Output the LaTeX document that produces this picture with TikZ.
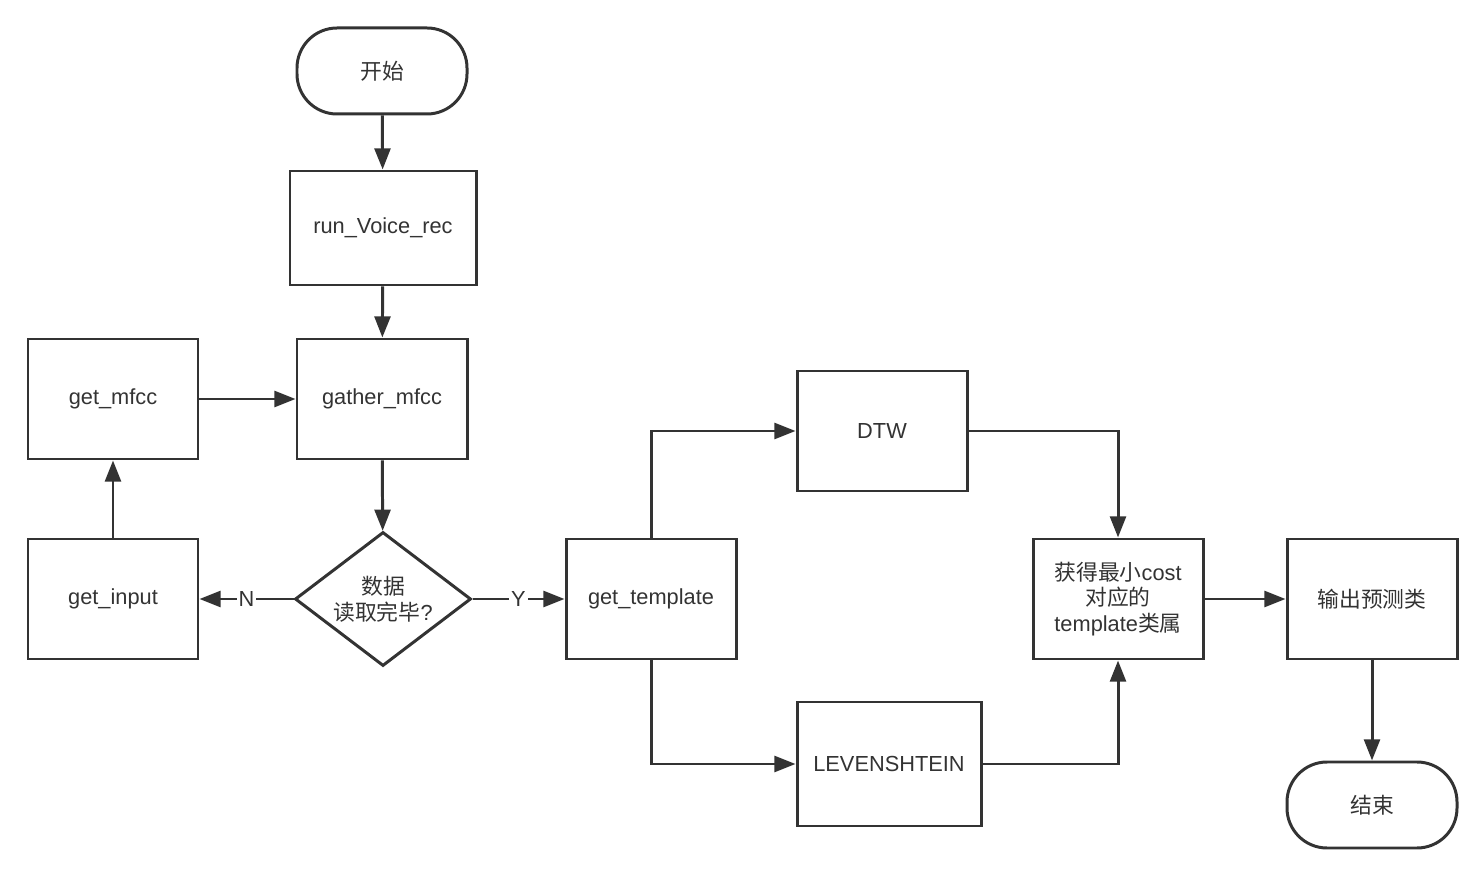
\documentclass[tikz,border=0pt]{standalone}
\usepackage{fontspec}
\setmainfont{Liberation Sans}
\newfontfamily\cjk{Noto Sans CJK SC}
\usetikzlibrary{arrows.meta,positioning,shapes.geometric}
\definecolor{fcdark}{RGB}{51,51,51}
\tikzset{
  procbox/.style={draw=fcdark, line width=1.7pt, text=fcdark, align=center,
                  font=\fontsize{12.4}{14.7}\selectfont,
                  minimum width=3.4cm, minimum height=2.4cm, inner sep=2pt},
  termbox/.style={draw=fcdark, line width=1.7pt, text=fcdark, rounded corners=0.8cm,
                  font=\fontsize{12.4}{14.7}\selectfont\cjk,
                  minimum width=3.4cm, minimum height=1.72cm},
  decbox/.style={diamond, draw=fcdark, line width=1.7pt, text=fcdark, align=center,
                 font=\fontsize{12.4}{14.7}\selectfont, shape aspect=1.3,
                 minimum width=3.52cm, minimum height=2.68cm, inner sep=0pt},
  flow/.style={-{Triangle[length=12pt, width=9pt]}, line width=1.7pt, draw=fcdark},
  yn/.style={fill=white, text=fcdark, font=\fontsize{12.4}{14.7}\selectfont, inner sep=1pt},
}
\begin{document}
\begin{tikzpicture}
\useasboundingbox (0,0) rectangle (29.68,-17.68);

% Main column
\node[termbox] (start) at (7.64,-1.42) {开始};
\node[procbox, minimum width=3.72cm, minimum height=2.28cm] (run) at (7.66,-4.56) {run\_Voice\_rec};
\node[procbox] (gather) at (7.64,-7.98) {gather\_mfcc};
\node[decbox] (check) at (7.66,-11.98) {{\cjk 数据}\\{\cjk 读取完毕}?};

% Input loop
\node[procbox] (mfcc) at (2.26,-7.98) {get\_mfcc};
\node[procbox] (input) at (2.26,-11.98) {get\_input};

% Matching branch
\node[procbox] (tpl) at (13.02,-11.98) {get\_template};
\node[procbox] (dtw) at (17.64,-8.62) {DTW};
\node[procbox, minimum width=3.68cm, minimum height=2.48cm] (lev) at (17.78,-15.28) {LEVENSHTEIN};
\node[procbox] (mincost) at (22.36,-11.98) {{\cjk 获得最小}cost\\{\cjk 对应的}\\template{\cjk 类属}};
\node[procbox, font=\fontsize{12.4}{14.7}\selectfont\cjk] (output) at (27.44,-11.98) {输出预测类};
\node[termbox] (stop) at (27.44,-16.1) {结束};

\draw[flow] (start) -- (run);
\draw[flow] (run) -- (gather);
\draw[flow] (gather) -- (check);
\draw[flow] (mfcc) -- (gather);
\draw[flow] (input) -- (mfcc);
\draw[flow] (check) -- node[yn] {N} (input);
\draw[flow] (check) -- node[yn] {Y} (tpl);

\draw[flow] (tpl.north) |- (dtw.west);
\draw[flow] (tpl.south) |- (lev.west);
\draw[flow] (dtw.east) -| (mincost.north);
\draw[flow] (lev.east) -| (mincost.south);
\draw[flow] (mincost) -- (output);
\draw[flow] (output) -- (stop);

\end{tikzpicture}
\end{document}
